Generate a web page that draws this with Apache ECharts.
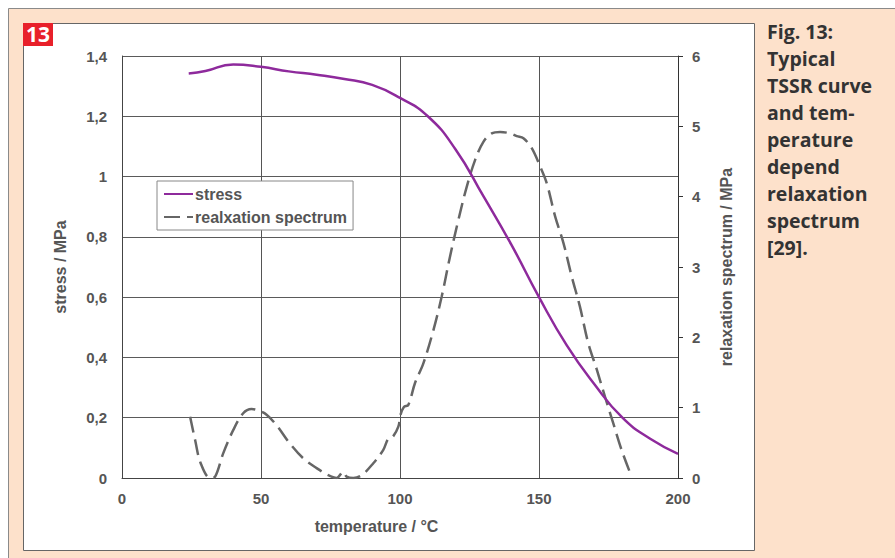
<!DOCTYPE html>
<html>
<head>
<meta charset="utf-8">
<script src="https://cdn.jsdelivr.net/npm/echarts@6/dist/echarts.min.js"></script>
<style>
  html, body { margin: 0; padding: 0; background: #fff; }
  #chart { width: 895px; height: 558px; }
</style>
</head>
<body>
<div id="chart"></div>
<script>
// stress curve (left axis)
var stressTemp = [24, 30, 40, 50, 60, 70, 80, 90, 100, 110, 120, 130, 140, 150, 160, 170, 180, 190, 200];
var stressValues = [1.342, 1.350, 1.372, 1.364, 1.349, 1.338, 1.324, 1.304, 1.261, 1.20, 1.09, 0.935, 0.775, 0.6, 0.44, 0.31, 0.2, 0.13, 0.08];

// relaxation spectrum (right axis)
var spectrumTemp = [24.5, 26.3, 28.3, 31.7, 33.5, 36.4, 40, 43.6, 46.6, 49, 52, 55.6, 60.4, 65.2, 70, 74.2, 77.2, 79.6, 80.8, 83.2, 86.2, 90.4, 94, 95.8, 97.3, 99.4, 100.2, 101.4, 103, 105.4, 108.4, 112, 115, 118, 121, 124, 127, 130, 133, 136, 139.6, 142, 144.4, 147.4, 150.4, 152.8, 155.8, 158.8, 161.8, 164.7, 167.7, 170.8, 173.7, 176.7, 179.7, 183.3];
var spectrumValues = [0.87, 0.54, 0.21, 0.0, 0.02, 0.35, 0.68, 0.92, 0.98, 0.96, 0.9, 0.75, 0.49, 0.28, 0.14, 0.04, 0.0, 0.09, 0.02, 0.0, 0.04, 0.21, 0.4, 0.56, 0.58, 0.73, 0.9, 1.01, 1.04, 1.35, 1.63, 2.1, 2.58, 3.15, 3.67, 4.14, 4.52, 4.78, 4.9, 4.92, 4.9, 4.86, 4.83, 4.69, 4.43, 4.19, 3.72, 3.34, 2.86, 2.44, 1.92, 1.54, 1.16, 0.78, 0.4, 0.02];

var xTicks = [0, 50, 100, 150, 200];
var captionLines = ['Fig. 13:', 'Typical', 'TSSR curve', 'and tem-', 'perature', 'depend', 'relaxation', 'spectrum', '[29].'];

var labelFamily = 'Liberation Sans, Arial, sans-serif';

function pairs(xs, ys) {
    var out = [];
    for (var i = 0; i < xs.length; i++) {
        out.push([xs[i], ys[i]]);
    }
    return out;
}

var chart = echarts.init(document.getElementById('chart'), null, { renderer: 'svg' });

chart.setOption({
    animation: false,
    graphic: [
        // peach frame + white panel
        { type: 'rect', z: -10, shape: { x: 8.5, y: 8.5, width: 900, height: 560 }, style: { fill: '#fde1cb', stroke: '#8a8a8a', lineWidth: 1 } },
        { type: 'rect', z: -9, shape: { x: 23.5, y: 23.5, width: 731, height: 527 }, style: { fill: '#ffffff', stroke: '#666', lineWidth: 1 } },
        // figure number badge
        { type: 'rect', z: 5, shape: { x: 23, y: 23, width: 30, height: 23 }, style: { fill: '#e8202a' } },
        { type: 'text', z: 6, left: 26, top: 23, style: { text: '13', fill: '#fff', font: 'bold 21px "Open Sans", sans-serif' } },
        // caption
        { type: 'text', z: 6, left: 767, top: 18, style: {
            text: captionLines.join('\n'), fill: '#333', lineHeight: 27,
            font: 'bold 19.5px "Open Sans", sans-serif'
        } }
    ],
    grid: { left: 122, top: 56, right: 217, bottom: 80 },
    legend: {
        left: 157, top: 181,
        orient: 'vertical',
        backgroundColor: '#fff',
        borderColor: '#888', borderWidth: 1,
        padding: [5, 6, 5, 6],
        itemWidth: 29, itemHeight: 14, itemGap: 7,
        itemStyle: { opacity: 0 },
        textStyle: { fontFamily: labelFamily, fontWeight: 'bold', fontSize: 16, color: '#555', padding: [0, 0, 0, -3] },
        data: ['stress', 'realxation spectrum']
    },
    xAxis: {
        type: 'value', min: xTicks[0], max: xTicks[xTicks.length - 1], interval: 50,
        name: 'temperature / °C', nameLocation: 'middle', nameGap: 40,
        nameTextStyle: { fontFamily: labelFamily, fontWeight: 'bold', fontSize: 16, color: '#555', padding: [0, 47, 0, 0] },
        axisLine: { show: true, lineStyle: { color: '#444', width: 1 } },
        axisTick: { show: false },
        axisLabel: { margin: 13, fontFamily: labelFamily, fontWeight: 'bold', fontSize: 15, color: '#555' },
        splitLine: { show: true, lineStyle: { color: '#555', width: 1 } }
    },
    yAxis: [
        {
            type: 'value', min: 0, max: 1.4, interval: 0.2,
            name: 'stress / MPa', nameLocation: 'middle', nameGap: 54,
            nameTextStyle: { fontFamily: labelFamily, fontWeight: 'bold', fontSize: 16, color: '#555' },
            axisLine: { show: true, lineStyle: { color: '#444', width: 1 } },
            axisTick: { show: false },
            axisLabel: {
                margin: 15, fontFamily: labelFamily, fontWeight: 'bold', fontSize: 15, color: '#555',
                formatter: function (v) { return String(Math.round(v * 10) / 10).replace('.', ','); }
            },
            splitLine: { show: true, lineStyle: { color: '#5a5a5a', width: 1 } }
        },
        {
            type: 'value', min: 0, max: 6, interval: 1, position: 'right',
            name: 'relaxation spectrum / MPa', nameLocation: 'middle', nameGap: 40,
            nameTextStyle: { fontFamily: labelFamily, fontWeight: 'bold', fontSize: 16, color: '#555' },
            axisLine: { show: true, lineStyle: { color: '#333', width: 1 } },
            axisTick: { show: true, inside: false, length: 5, lineStyle: { color: '#333' } },
            axisLabel: { margin: 14, fontFamily: labelFamily, fontWeight: 'bold', fontSize: 15, color: '#555' },
            splitLine: { show: false }
        }
    ],
    series: [
        {
            name: 'stress', type: 'line', yAxisIndex: 0,
            data: pairs(stressTemp, stressValues),
            smooth: 0.5,
            symbol: 'none',
            lineStyle: { color: '#8e2a9c', width: 2.5 },
            itemStyle: { color: '#8e2a9c' },
            z: 3
        },
        {
            name: 'realxation spectrum', type: 'line', yAxisIndex: 1,
            data: pairs(spectrumTemp, spectrumValues),
            smooth: 0.35,
            symbol: 'none',
            lineStyle: { color: '#666', width: 2.5, type: [16, 7] },
            itemStyle: { color: '#666' },
            z: 2
        }
    ]
});
</script>
</body>
</html>
